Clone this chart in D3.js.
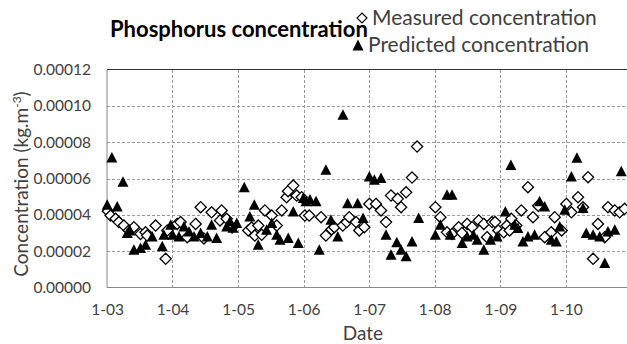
<!DOCTYPE html>

<head>
  <meta charset="utf-8">
  <script src="https://d3js.org/d3.v7.min.js"></script>
  <style>
    body {
      margin: 0;
      background: #fff;
    }

    text {
      font-family: Lato, sans-serif;
      fill: #404040;
    }

    text.title {
      font-size: 22px;
      font-weight: 700;
      fill: #000;
    }

    text.legend {
      font-size: 21px;
      fill: #404040;
    }

    text.axisTitle {
      font-size: 19px;
    }

    .tick text {
      font-size: 15.5px;
      fill: #404040;
    }

    .grid line {
      stroke: #999;
      stroke-dasharray: 3, 2;
      shape-rendering: crispEdges;
    }

    path.domain {
      display: none;
    }
  </style>
</head>

<body>
  <script>
    // measured phosphorus concentration (kg.m-3)
    const measuredDates = [
      "2003-01-06", "2003-01-21", "2003-02-18", "2003-03-08", "2003-04-05", "2003-05-03", "2003-05-31",
      "2003-07-07", "2003-08-04", "2003-08-13", "2003-09-29", "2003-11-24", "2003-12-03",
      "2004-01-27", "2004-02-15", "2004-03-23", "2004-05-09", "2004-06-06", "2004-06-24", "2004-08-06",
      "2004-09-22", "2004-10-01", "2004-10-29", "2004-11-28",
      "2005-02-26", "2005-03-17", "2005-04-04", "2005-04-23", "2005-05-12", "2005-05-30", "2005-07-07",
      "2005-08-04", "2005-09-01", "2005-09-28", "2005-10-06", "2005-11-04", "2005-11-23", "2005-12-21",
      "2006-01-08", "2006-02-01", "2006-04-08", "2006-05-05", "2006-06-06", "2006-06-21", "2006-08-07",
      "2006-08-29", "2006-09-12", "2006-10-20", "2006-11-07", "2006-12-05",
      "2007-01-02", "2007-02-08", "2007-03-08", "2007-04-05", "2007-05-03", "2007-06-09", "2007-06-28",
      "2007-07-26", "2007-08-28", "2007-09-25",
      "2008-01-05", "2008-02-02", "2008-03-10", "2008-04-07", "2008-05-14", "2008-06-01", "2008-06-30",
      "2008-07-28", "2008-09-03", "2008-10-01", "2008-10-19", "2008-11-16", "2008-12-03", "2008-12-21",
      "2009-01-20", "2009-02-07", "2009-02-22", "2009-03-03", "2009-03-31", "2009-04-28", "2009-06-04",
      "2009-07-02", "2009-07-31", "2009-09-05", "2009-10-12", "2009-10-31", "2009-12-09",
      "2010-01-04", "2010-02-01", "2010-03-10", "2010-04-07", "2010-05-05", "2010-06-02", "2010-06-29",
      "2010-08-06", "2010-08-24", "2010-10-01", "2010-10-28", "2010-11-25"
    ];
    const measuredValues = [
      4.20e-5, 3.96e-5, 3.78e-5, 3.60e-5, 3.41e-5, 3.14e-5, 3.32e-5,
      2.95e-5, 3.04e-5, 2.86e-5, 3.41e-5, 1.58e-5, 3.14e-5,
      3.50e-5, 3.60e-5, 2.77e-5, 3.50e-5, 4.42e-5, 2.70e-5, 4.14e-5,
      3.69e-5, 4.24e-5, 3.78e-5, 3.30e-5,
      3.14e-5, 3.30e-5, 2.86e-5, 3.41e-5, 2.90e-5, 4.24e-5, 3.96e-5,
      3.41e-5, 4.24e-5, 4.97e-5, 5.30e-5, 5.61e-5, 5.06e-5, 4.97e-5,
      3.96e-5, 3.96e-5, 3.87e-5, 2.86e-5, 3.20e-5, 3.32e-5, 3.41e-5,
      3.60e-5, 3.87e-5, 3.60e-5, 3.14e-5, 3.32e-5,
      4.60e-5, 4.60e-5, 4.24e-5, 3.60e-5, 5.06e-5, 4.88e-5, 4.42e-5,
      5.24e-5, 6.05e-5, 7.76e-5,
      4.42e-5, 3.87e-5, 3.04e-5, 2.95e-5, 3.32e-5, 3.00e-5, 3.50e-5,
      3.32e-5, 3.69e-5, 3.50e-5, 2.77e-5, 3.60e-5, 3.60e-5, 3.14e-5,
      3.04e-5, 3.41e-5, 3.14e-5, 3.78e-5, 3.41e-5, 4.24e-5, 5.52e-5,
      3.87e-5, 4.50e-5, 2.77e-5, 3.04e-5, 3.87e-5, 3.14e-5,
      4.60e-5, 4.14e-5, 4.97e-5, 4.42e-5, 6.07e-5, 1.58e-5, 3.50e-5,
      2.77e-5, 4.42e-5, 4.24e-5, 4.14e-5, 4.33e-5
    ];

    // predicted phosphorus concentration (kg.m-3)
    const predictedDates = [
      "2003-01-02", "2003-01-28", "2003-02-27", "2003-03-31", "2003-04-24", "2003-05-09", "2003-05-31",
      "2003-07-07", "2003-08-04", "2003-09-10", "2003-11-05", "2003-11-14", "2003-12-22",
      "2004-01-02", "2004-02-06", "2004-03-05", "2004-04-02", "2004-04-30", "2004-06-06", "2004-07-13",
      "2004-08-06", "2004-09-03", "2004-10-29", "2004-11-16", "2004-12-03", "2004-12-24",
      "2005-02-04", "2005-03-07", "2005-04-01", "2005-04-23", "2005-06-08", "2005-07-07", "2005-08-04",
      "2005-08-22", "2005-10-07", "2005-11-04", "2005-12-02", "2005-12-30",
      "2006-01-14", "2006-02-05", "2006-03-11", "2006-03-29", "2006-05-05", "2006-06-02", "2006-07-10",
      "2006-08-08", "2006-09-03", "2006-10-29", "2006-11-28",
      "2007-01-02", "2007-01-30", "2007-03-08", "2007-04-05", "2007-05-03", "2007-06-04", "2007-06-28",
      "2007-07-26", "2007-08-28", "2007-10-04",
      "2008-01-05", "2008-02-02", "2008-03-10", "2008-03-28", "2008-04-07", "2008-06-02", "2008-06-30",
      "2008-08-04", "2008-08-25", "2008-10-01", "2008-11-07", "2008-12-14",
      "2009-01-29", "2009-03-01", "2009-03-22", "2009-04-09", "2009-05-07", "2009-06-04", "2009-07-11",
      "2009-08-08", "2009-09-05", "2009-10-12", "2009-11-09", "2009-11-28", "2009-12-26",
      "2010-02-01", "2010-03-04", "2010-04-07", "2010-04-25", "2010-06-02", "2010-07-09", "2010-08-06",
      "2010-08-24", "2010-10-01", "2010-11-06"
    ];
    const predictedValues = [
      4.51e-5, 7.11e-5, 4.42e-5, 5.78e-5, 2.95e-5, 3.10e-5, 2.04e-5,
      2.13e-5, 2.31e-5, 2.77e-5, 2.22e-5, 2.86e-5, 3.41e-5,
      2.86e-5, 2.77e-5, 3.32e-5, 3.04e-5, 2.77e-5, 2.95e-5, 2.77e-5,
      3.41e-5, 2.68e-5, 3.32e-5, 3.60e-5, 3.25e-5, 3.50e-5,
      5.47e-5, 3.87e-5, 4.51e-5, 2.31e-5, 3.14e-5, 3.50e-5, 2.86e-5,
      2.59e-5, 2.68e-5, 4.14e-5, 2.41e-5, 4.88e-5,
      4.70e-5, 4.80e-5, 4.70e-5, 2.04e-5, 6.44e-5, 3.69e-5, 2.77e-5,
      9.47e-5, 4.60e-5, 4.60e-5, 3.78e-5,
      6.07e-5, 5.89e-5, 5.98e-5, 2.86e-5, 1.76e-5, 2.45e-5, 2.04e-5,
      1.67e-5, 2.49e-5, 3.78e-5,
      2.86e-5, 3.41e-5, 5.06e-5, 2.86e-5, 5.06e-5, 2.41e-5, 2.77e-5,
      2.86e-5, 2.59e-5, 2.04e-5, 2.59e-5, 2.77e-5,
      4.14e-5, 6.70e-5, 3.41e-5, 3.23e-5, 2.49e-5, 2.77e-5, 2.86e-5,
      4.70e-5, 4.42e-5, 2.59e-5, 2.49e-5, 3.32e-5, 4.24e-5,
      6.07e-5, 7.10e-5, 4.33e-5, 2.95e-5, 2.86e-5, 2.77e-5, 1.30e-5,
      3.04e-5, 3.14e-5, 6.35e-5
    ];

    const yTicks = [0, 0.00002, 0.00004, 0.00006, 0.00008, 0.00010, 0.00012];
    const xTickDates = ["2003-01-01", "2004-01-01", "2005-01-01", "2006-01-01", "2007-01-01",
      "2008-01-01", "2009-01-01", "2010-01-01"];
    const xDomain = ["2003-01-01", "2010-12-08"];

    const width = 627;
    const height = 344;
    const margin = { top: 69.5, right: 0, bottom: 56.5, left: 107 };

    const parseDate = d3.timeParse("%Y-%m-%d");

    const measured = measuredDates.map((d, i) => ({ date: parseDate(d), value: measuredValues[i] }));
    const predicted = predictedDates.map((d, i) => ({ date: parseDate(d), value: predictedValues[i] }));

    const svg = d3.select("body").append("svg")
      .attr("width", width)
      .attr("height", height);

    const x = d3.scaleTime()
      .domain(xDomain.map(parseDate))
      .range([margin.left, width - margin.right]);

    const y = d3.scaleLinear()
      .domain([0, 0.00012])
      .range([height - margin.bottom, margin.top]);

    // horizontal grid
    svg.append("g")
      .attr("class", "grid")
      .attr("transform", `translate(${margin.left},0)`)
      .call(d3.axisLeft(y)
        .tickValues(yTicks.filter(d => d > 0 && d < 0.00012))
        .tickSize(-(width - margin.left - margin.right))
        .tickFormat(""));

    // vertical grid
    svg.append("g")
      .attr("class", "grid")
      .attr("transform", `translate(0,${margin.top})`)
      .call(d3.axisTop(x)
        .tickValues(xTickDates.slice(1).map(parseDate))
        .tickSize(-(height - margin.top - margin.bottom))
        .tickFormat(""));

    // top line
    svg.append("line")
      .attr("x1", margin.left)
      .attr("x2", width - margin.right)
      .attr("y1", y(0.00012))
      .attr("y2", y(0.00012))
      .style("stroke", "#333")
      .style("stroke-width", 1.2);

    // y axis
    const yAxis = svg.append("g")
      .attr("transform", `translate(${margin.left},0)`)
      .call(d3.axisLeft(y)
        .tickValues(yTicks)
        .tickSize(0)
        .tickPadding(16)
        .tickFormat(d3.format(".5f")));
    yAxis.select(".domain").remove();

    // x axis
    const xAxis = svg.append("g")
      .attr("transform", `translate(0,${height - margin.bottom})`)
      .call(d3.axisBottom(x)
        .tickValues(xTickDates.map(parseDate))
        .tickSize(0)
        .tickPadding(16)
        .tickFormat(d3.timeFormat("%-m-%y")));
    xAxis.select(".domain").remove();

    svg.append("line")
      .attr("x1", margin.left).attr("x2", margin.left)
      .attr("y1", margin.top).attr("y2", height - margin.bottom)
      .style("stroke", "#888");
    svg.append("line")
      .attr("x1", margin.left).attr("x2", width - margin.right)
      .attr("y1", height - margin.bottom).attr("y2", height - margin.bottom)
      .style("stroke", "#888");

    const diamond = r => `M0,${-r}L${r},0L0,${r}L${-r},0Z`;
    const triangle = (w, h) => `M0,${-h * 0.6}L${w / 2},${h * 0.4}L${-w / 2},${h * 0.4}Z`;

    svg.append("g").selectAll("path")
      .data(measured)
      .join("path")
      .attr("d", diamond(5.6))
      .attr("transform", d => `translate(${x(d.date)},${y(d.value)})`)
      .style("fill", "#fff")
      .style("stroke", "#000")
      .style("stroke-width", 1.3);

    svg.append("g").selectAll("path")
      .data(predicted)
      .join("path")
      .attr("d", triangle(11, 10.5))
      .attr("transform", d => `translate(${x(d.date)},${y(d.value)})`)
      .style("fill", "#000");

    // title
    svg.append("text")
      .attr("class", "title")
      .attr("x", 110)
      .attr("y", 37)
      .text("Phosphorus concentration");

    // legend
    svg.append("path")
      .attr("d", diamond(5))
      .attr("transform", "translate(362,18)")
      .style("fill", "#fff")
      .style("stroke", "#000")
      .style("stroke-width", 1.1);
    svg.append("text")
      .attr("class", "legend")
      .attr("x", 372)
      .attr("y", 25)
      .text("Measured concentration");

    svg.append("path")
      .attr("d", triangle(11, 11))
      .attr("transform", "translate(358,46)")
      .style("fill", "#000");
    svg.append("text")
      .attr("class", "legend")
      .attr("x", 368)
      .attr("y", 52)
      .text("Predicted concentration");

    // axis titles
    svg.append("text")
      .attr("class", "axisTitle")
      .attr("x", 363)
      .attr("y", 340)
      .style("text-anchor", "middle")
      .text("Date");

    const yTitle = svg.append("text")
      .attr("class", "axisTitle")
      .attr("transform", `translate(28,184) rotate(-90)`)
      .style("text-anchor", "middle");
    yTitle.append("tspan").text("Concentration (kg.m");
    yTitle.append("tspan").attr("dy", -7).style("font-size", "12px").text("-3");
    yTitle.append("tspan").attr("dy", 7).text(")");
  </script>
</body>
